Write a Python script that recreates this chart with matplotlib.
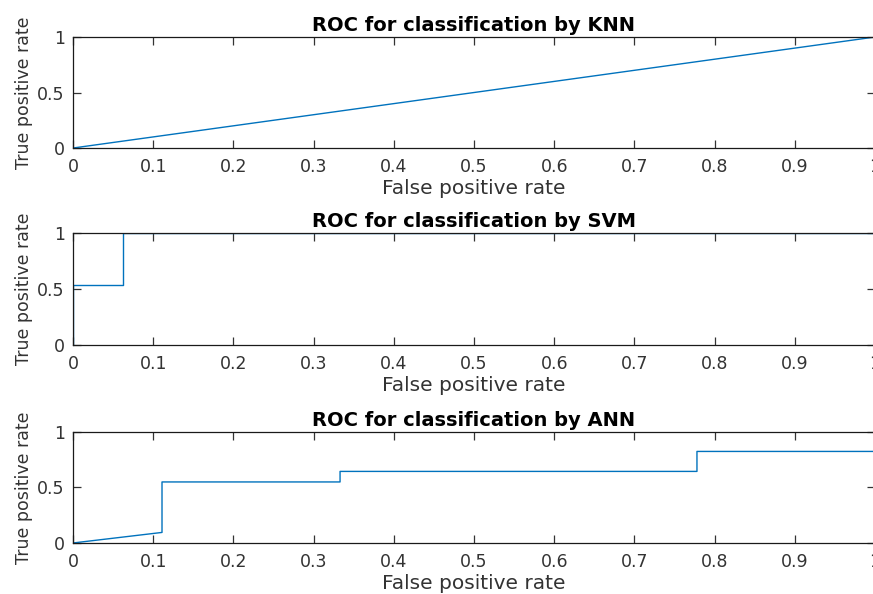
import matplotlib
matplotlib.use("Agg")
import matplotlib.pyplot as plt

# ROC curves
knn_fpr = [0.0, 1.0]
knn_tpr = [0.0, 1.0]

svm_fpr = [0.0, 0.0, 0.0625, 0.0625, 1.0]
svm_tpr = [0.0, 0.533, 0.533, 1.0, 1.0]

ann_fpr = [0.0, 0.111, 0.111, 0.333, 0.333, 0.778, 0.778, 1.0]
ann_tpr = [0.0, 0.095, 0.55, 0.55, 0.645, 0.645, 0.825, 0.825]

titles = ["ROC for classification by KNN",
          "ROC for classification by SVM",
          "ROC for classification by ANN"]
x_ticks = [0, 0.1, 0.2, 0.3, 0.4, 0.5, 0.6, 0.7, 0.8, 0.9, 1]
y_ticks = [0, 0.5, 1]

plt.rcParams["font.family"] = ["DejaVu Sans"]

fig = plt.figure(figsize=(8.73, 5.94), dpi=100)
line_col = "#0072BD"
txt_col = "#333333"

# [left, bottom, width, height] for each panel
boxes = [[0.0836, 0.7508, 0.9187, 0.1869],
         [0.0836, 0.4192, 0.9187, 0.1885],
         [0.0836, 0.0859, 0.9187, 0.1868]]
curves = [(knn_fpr, knn_tpr), (svm_fpr, svm_tpr), (ann_fpr, ann_tpr)]

for box, (fx, fy), title in zip(boxes, curves, titles):
    ax = fig.add_axes(box)
    ax.plot(fx, fy, color=line_col, lw=1.0)
    ax.set_xlim(0, 1)
    ax.set_ylim(0, 1)
    ax.set_xticks(x_ticks)
    ax.set_xticklabels([str(t) for t in x_ticks])
    ax.set_yticks(y_ticks)
    ax.set_yticklabels(["0", "0.5", "1"])
    ax.tick_params(direction="in", top=True, right=True, length=5.5,
                   width=0.9, labelsize=12.5, colors=txt_col)
    ax.tick_params(axis="x", pad=7)
    ax.tick_params(axis="y", pad=6)
    for s in ax.spines.values():
        s.set_color("#1a1a1a")
        s.set_linewidth(0.9)
    ax.set_title(title, fontsize=14, fontweight="bold", color="black", pad=4.5)
    ax.set_xlabel("False positive rate", fontsize=14.5, color=txt_col, labelpad=2.5)
    ax.set_ylabel("True positive rate", fontsize=12.5, color=txt_col, labelpad=3)

plt.savefig("out.png", dpi=100)
